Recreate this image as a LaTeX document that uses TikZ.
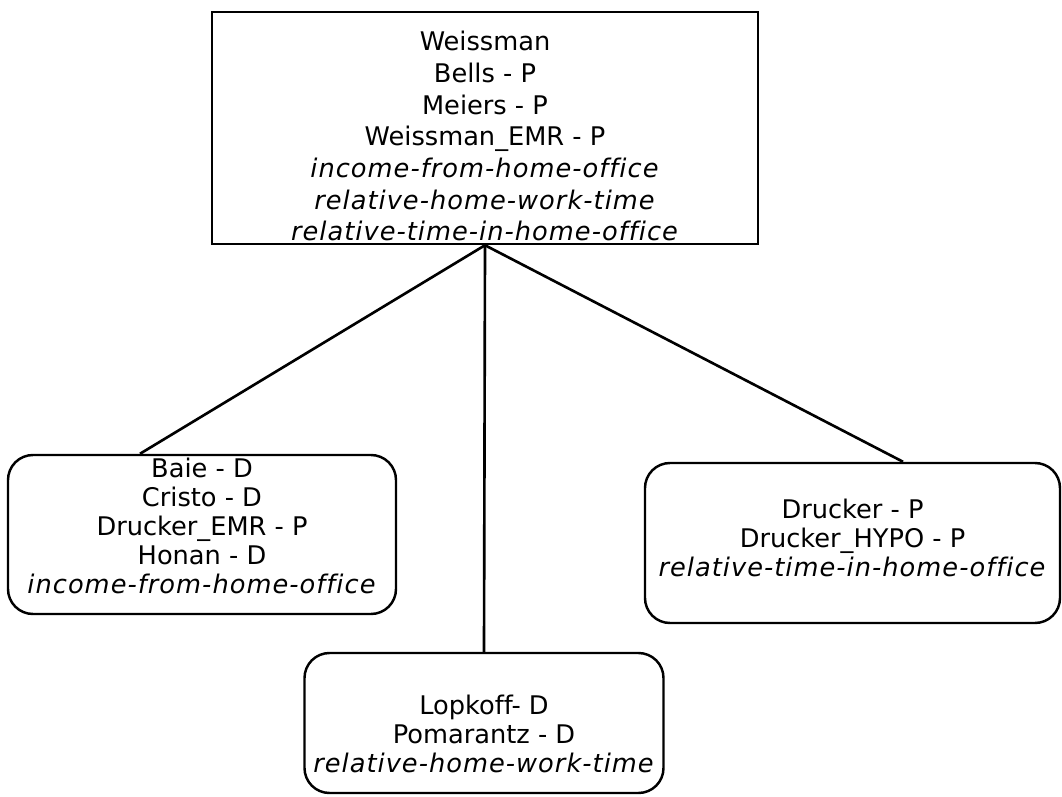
\documentclass[tikz,border=0pt]{standalone}
\usepackage{fontspec}
\setmainfont{DejaVu Sans}[Ligatures = NoCommon, ItalicFeatures = {LetterSpace = 4}]
\usetikzlibrary{calc}

\begin{document}
\begin{tikzpicture}[
		box/.style = {draw, line width = 1.4pt, align = center, inner sep = 0pt,
			font = \fontsize{14.6pt}{16.5pt}\selectfont},
		roundbox/.style = {box, rounded corners = 0.5cm}
	]
			\def\fw{10.92};
			\def\fh{4.64};
			
			\useasboundingbox (0,0) rectangle (21.24,15.92);
			
			\node [box, minimum width = \fw cm, minimum height = \fh cm,
				font = \fontsize{14.6pt}{18pt}\selectfont] (weissman) at (9.70,13.36)
				{Weissman\\ Bells - P\\ Meiers - P\\ Weissman\_EMR - P\\
				\textit{income-from-home-office}\\ \textit{relative-home-work-time}\\
				\textit{relative-time-in-home-office}\\[-27.1pt]};
			
			\node [roundbox, minimum width = 7.76cm, minimum height = 3.18cm] (baie) at (4.04,5.23)
				{Baie - D\\ Cristo - D\\ Drucker\_EMR - P\\ Honan - D\\
				\textit{income-from-home-office}\\[-7pt]};
			
			\node [roundbox, minimum width = 7.18cm, minimum height = 2.80cm] (lopkoff) at (9.68,1.46)
				{Lopkoff- D\\ Pomarantz - D\\ \textit{relative-home-work-time}\\[-29pt]};
			
			\node [roundbox, minimum width = 8.30cm, minimum height = 3.20cm] (drucker) at (17.05,5.06)
				{Drucker - P\\ Drucker\_HYPO - P\\ \textit{relative-time-in-home-office}\\[-10.8pt]};
			
			\coordinate (l) at ($(baie.north) + (-1.24,0)$);
			\coordinate (r) at ($(drucker.north) + (1.01,0)$);
			
			\begin{scope}[line width = 1.5pt]
				\draw (weissman.south) -- (l);
				\draw (weissman.south) -- (lopkoff.north);
				\draw (weissman.south) -- (r);
			\end{scope}
		\end{tikzpicture}
\end{document}
